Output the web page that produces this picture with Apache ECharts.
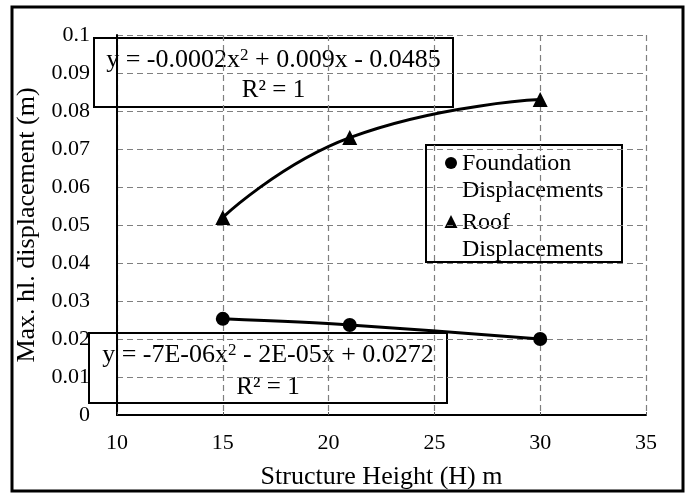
<!DOCTYPE html>
<html>
<head>
<meta charset="utf-8">
<script src="https://cdn.jsdelivr.net/npm/echarts@6/dist/echarts.min.js"></script>
<style>
  html, body { margin: 0; padding: 0; background: #fff; }
  #chart { width: 689px; height: 495px; }
</style>
</head>
<body>
<div id="chart"></div>
<script>
// Structure height (m) at which displacements were measured
const heights = [15, 21, 30];
// Maximum horizontal displacement (m)
const foundationDisp = [0.0253, 0.0237, 0.0200];
const roofDisp = [0.052, 0.073, 0.083];

const seriesNames = ['Foundation Displacements', 'Roof Displacements'];
// trendline equations: [text before the exponent, text after it], and R²
const roofEquation = ['y = -0.0002x', ' + 0.009x - 0.0485', 'R\u00B2 = 1'];
const foundationEquation = ['y = -7E-06x', ' - 2E-05x + 0.0272', 'R\u00B2 = 1'];

const xTicks = [10, 15, 20, 25, 30, 35];
const yTickLabels = ['0', '0.01', '0.02', '0.03', '0.04', '0.05', '0.06', '0.07', '0.08', '0.09', '0.1'];

const FONT = '"Liberation Serif", "Times New Roman", serif';
const toPairs = (xs, ys) => xs.map((x, i) => [x, ys[i]]);

const chart = echarts.init(document.getElementById('chart'), null, { renderer: 'canvas' });

function textBox(left, top, width, height, eq, line1Y, line2Y) {
  const cx = left + width / 2;
  return {
    type: 'group',
    z: 100,
    children: [
      {
        type: 'rect',
        shape: { x: left, y: top, width: width, height: height },
        style: { fill: '#fff', stroke: '#000', lineWidth: 2 }
      },
      {
        type: 'text',
        style: {
          x: cx,
          y: line1Y,
          text: eq[0] + '{sup|2}' + eq[1],
          font: '26px ' + FONT,
          fill: '#000',
          align: 'center',
          verticalAlign: 'middle',
          rich: {
            sup: { font: '17px ' + FONT, fill: '#000', verticalAlign: 'top', padding: [0, 0, 0, 0], lineHeight: 26 }
          }
        }
      },
      {
        type: 'text',
        style: {
          x: cx,
          y: line2Y,
          text: eq[2],
          font: '25px ' + FONT,
          fill: '#000',
          align: 'center',
          verticalAlign: 'middle'
        }
      }
    ]
  };
}

const option = {
  animation: false,
  backgroundColor: '#fff',
  grid: { left: 117, right: 43, top: 35, bottom: 80, containLabel: false },
  xAxis: {
    type: 'value',
    min: xTicks[0],
    max: xTicks[xTicks.length - 1],
    interval: 5,
    name: 'Structure Height (H) m',
    nameLocation: 'middle',
    nameGap: 49,
    nameTextStyle: { fontFamily: FONT, fontSize: 26, color: '#000' },
    axisLine: { show: true, onZero: false, lineStyle: { color: '#000', width: 2 } },
    axisTick: { show: true, inside: true, length: 3, lineStyle: { color: '#555' } },
    axisLabel: { fontFamily: FONT, fontSize: 22, color: '#000', margin: 17 },
    splitLine: { show: true, lineStyle: { color: '#7f7f7f', type: [6, 4], width: 1.2 } }
  },
  yAxis: {
    type: 'value',
    min: 0,
    max: 0.1,
    interval: 0.01,
    name: 'Max. hl. displacement (m)',
    nameLocation: 'middle',
    nameGap: 73,
    nameTextStyle: { fontFamily: FONT, fontSize: 26, color: '#000' },
    axisLine: { show: true, lineStyle: { color: '#000', width: 2 } },
    axisTick: { show: false },
    axisLabel: {
      fontFamily: FONT, fontSize: 22, color: '#000', margin: 27,
      formatter: (v) => yTickLabels[Math.round(v * 100)]
    },
    splitLine: { show: true, lineStyle: { color: '#7f7f7f', type: [6, 4], width: 1.2 } }
  },
  series: [
    {
      name: seriesNames[0],
      type: 'line',
      data: toPairs(heights, foundationDisp),
      smooth: 0.3,
      symbol: 'circle',
      symbolSize: 14,
      itemStyle: { color: '#000' },
      lineStyle: { color: '#000', width: 3 },
      z: 5
    },
    {
      name: seriesNames[1],
      type: 'line',
      data: toPairs(heights, roofDisp),
      smooth: 0.5,
      symbol: 'triangle',
      symbolSize: 15,
      itemStyle: { color: '#000' },
      lineStyle: { color: '#000', width: 3 },
      z: 5
    }
  ],
  graphic: [
    // outer frame
    {
      type: 'rect',
      z: 0,
      shape: { x: 12, y: 7, width: 671, height: 484 },
      style: { fill: 'none', stroke: '#000', lineWidth: 3 }
    },
    textBox(94, 38, 359, 69, roofEquation, 60, 90),
    textBox(89, 333, 358, 70, foundationEquation, 355, 387),
    // legend
    {
      type: 'group',
      z: 100,
      children: [
        {
          type: 'rect',
          shape: { x: 426, y: 145, width: 196, height: 117 },
          style: { fill: '#fff', stroke: '#000', lineWidth: 2 }
        },
        {
          type: 'circle',
          shape: { cx: 451, cy: 163, r: 6 },
          style: { fill: '#000' }
        },
        {
          type: 'polygon',
          shape: { points: [[451, 215], [444.5, 228], [457.5, 228]] },
          style: { fill: '#000' }
        },
        {
          type: 'text',
          style: {
            x: 462, y: 177, text: 'Foundation\nDisplacements',
            font: '24px ' + FONT, lineHeight: 27, fill: '#000',
            align: 'left', verticalAlign: 'middle'
          }
        },
        {
          type: 'text',
          style: {
            x: 462, y: 236, text: 'Roof\nDisplacements',
            font: '24px ' + FONT, lineHeight: 27, fill: '#000',
            align: 'left', verticalAlign: 'middle'
          }
        }
      ]
    }
  ]
};

chart.setOption(option);
</script>
</body>
</html>
